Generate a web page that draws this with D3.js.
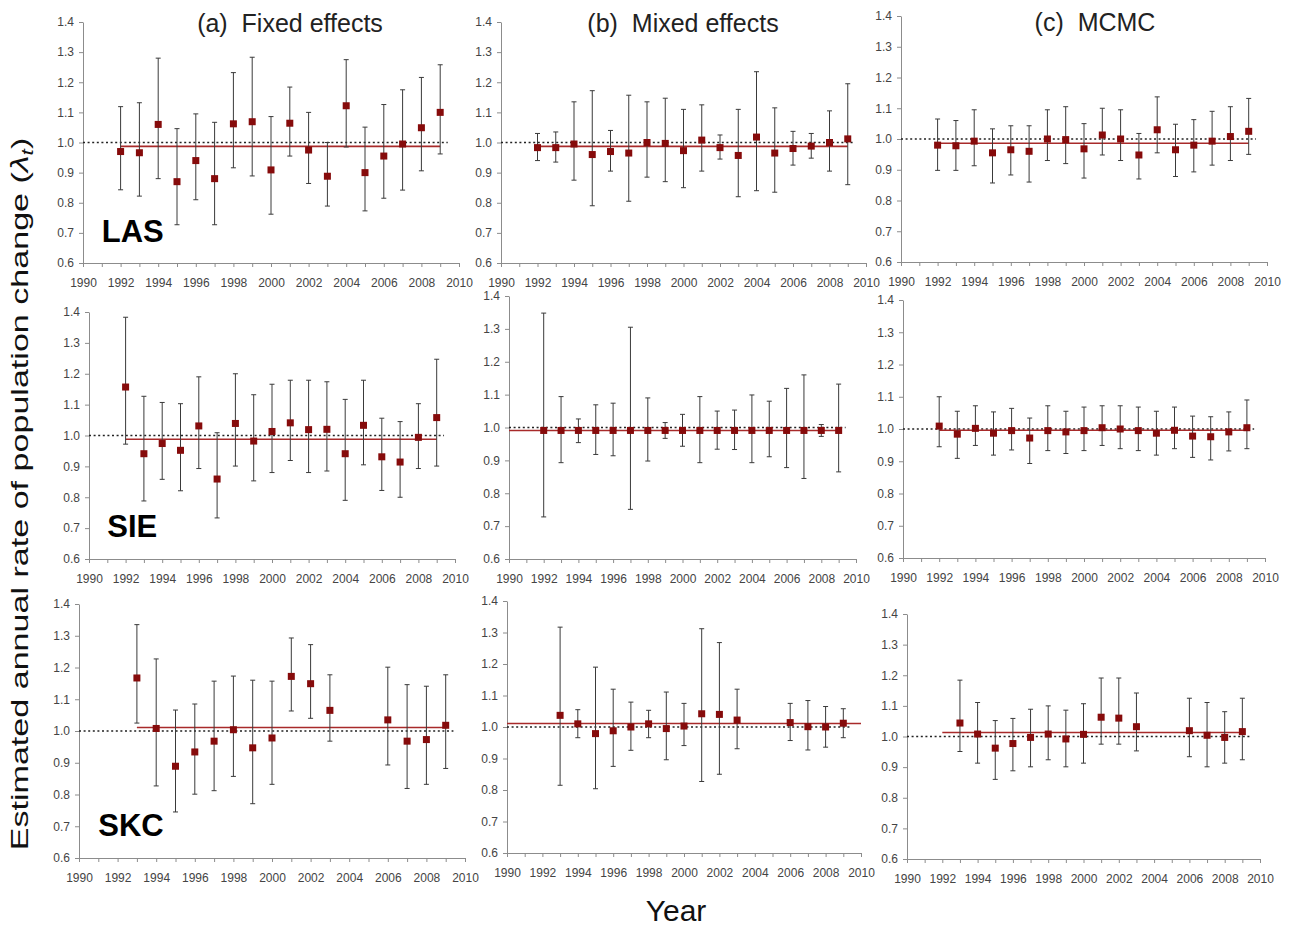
<!DOCTYPE html>
<html>
<head>
<meta charset="utf-8">
<script src="https://cdn.jsdelivr.net/npm/d3@7"></script>
<style>
  body { margin: 0; background: #fff; }
  text { font-family: "Liberation Sans", Arial, sans-serif; }
</style>
</head>
<body>
<script>
//Width and height
var w = 1290;
var h = 926;

// tick labels
const yearTicks = [1990, 1992, 1994, 1996, 1998, 2000, 2002, 2004, 2006, 2008, 2010];
const lambdaTicks = [0.6, 0.7, 0.8, 0.9, 1.0, 1.1, 1.2, 1.3, 1.4];

const columnTitles = ["(a)  Fixed effects", "(b)  Mixed effects", "(c)  MCMC"];
const rowLabels = ["LAS", "SIE", "SKC"];

// [year, estimate, lower, upper]
const lasFixed = [
  [1992, 0.970, 0.843, 1.119], [1993, 0.966, 0.822, 1.132], [1994, 1.060, 0.880, 1.280],
  [1995, 0.870, 0.727, 1.046], [1996, 0.940, 0.810, 1.095], [1997, 0.880, 0.727, 1.067],
  [1998, 1.062, 0.916, 1.232], [1999, 1.069, 0.889, 1.283], [2000, 0.909, 0.762, 1.086],
  [2001, 1.064, 0.955, 1.184], [2002, 0.975, 0.864, 1.100], [2003, 0.888, 0.789, 1.000],
  [2004, 1.122, 0.985, 1.275], [2005, 0.900, 0.773, 1.051], [2006, 0.955, 0.815, 1.126],
  [2007, 0.995, 0.842, 1.175], [2008, 1.049, 0.906, 1.216], [2009, 1.100, 0.962, 1.258]
];
const lasMixed = [
  [1992, 0.983, 0.940, 1.030], [1993, 0.983, 0.935, 1.035], [1994, 0.995, 0.875, 1.135],
  [1995, 0.960, 0.790, 1.172], [1996, 0.970, 0.905, 1.040], [1997, 0.965, 0.805, 1.157],
  [1998, 1.000, 0.885, 1.135], [1999, 0.997, 0.870, 1.147], [2000, 0.973, 0.850, 1.110],
  [2001, 1.008, 0.905, 1.125], [2002, 0.983, 0.945, 1.025], [2003, 0.957, 0.820, 1.110],
  [2004, 1.018, 0.840, 1.235], [2005, 0.965, 0.835, 1.115], [2006, 0.980, 0.925, 1.037],
  [2007, 0.988, 0.948, 1.030], [2008, 1.000, 0.905, 1.105], [2009, 1.012, 0.860, 1.195]
];
const lasMcmc = [
  [1992, 0.980, 0.898, 1.065], [1993, 0.978, 0.898, 1.060], [1994, 0.993, 0.913, 1.095],
  [1995, 0.955, 0.857, 1.033], [1996, 0.965, 0.883, 1.043], [1997, 0.960, 0.860, 1.043],
  [1998, 1.000, 0.930, 1.095], [1999, 0.998, 0.920, 1.105], [2000, 0.968, 0.873, 1.050],
  [2001, 1.013, 0.948, 1.100], [2002, 1.000, 0.930, 1.095], [2003, 0.948, 0.870, 1.018],
  [2004, 1.030, 0.955, 1.137], [2005, 0.965, 0.878, 1.048], [2006, 0.980, 0.893, 1.063],
  [2007, 0.993, 0.915, 1.090], [2008, 1.008, 0.930, 1.105], [2009, 1.025, 0.950, 1.132]
];

const sieFixed = [
  [1992, 1.157, 0.972, 1.383], [1993, 0.941, 0.788, 1.127], [1994, 0.974, 0.858, 1.107],
  [1995, 0.952, 0.821, 1.103], [1996, 1.031, 0.893, 1.190], [1997, 0.859, 0.733, 1.009],
  [1998, 1.039, 0.901, 1.200], [1999, 0.982, 0.853, 1.132], [2000, 1.013, 0.880, 1.166],
  [2001, 1.041, 0.919, 1.179], [2002, 1.019, 0.880, 1.179], [2003, 1.020, 0.885, 1.174],
  [2004, 0.941, 0.790, 1.117], [2005, 1.033, 0.905, 1.179], [2006, 0.931, 0.822, 1.056],
  [2007, 0.914, 0.800, 1.045], [2008, 0.994, 0.893, 1.103], [2009, 1.058, 0.901, 1.247]
];
const sieMixed = [
  [1992, 0.991, 0.728, 1.348], [1993, 0.991, 0.893, 1.094], [1994, 0.991, 0.954, 1.026],
  [1995, 0.991, 0.918, 1.069], [1996, 0.991, 0.914, 1.074], [1997, 0.991, 0.751, 1.305],
  [1998, 0.991, 0.898, 1.090], [1999, 0.991, 0.967, 1.015], [2000, 0.991, 0.943, 1.040],
  [2001, 0.991, 0.893, 1.094], [2002, 0.991, 0.934, 1.050], [2003, 0.991, 0.933, 1.053],
  [2004, 0.991, 0.893, 1.099], [2005, 0.991, 0.911, 1.080], [2006, 0.991, 0.878, 1.119],
  [2007, 0.991, 0.845, 1.160], [2008, 0.991, 0.973, 1.009], [2009, 0.991, 0.865, 1.132]
];
const sieMcmc = [
  [1992, 1.009, 0.945, 1.100], [1993, 0.984, 0.909, 1.055], [1994, 1.002, 0.949, 1.072],
  [1995, 0.987, 0.919, 1.053], [1996, 0.995, 0.935, 1.064], [1997, 0.972, 0.893, 1.034],
  [1998, 0.995, 0.933, 1.072], [1999, 0.991, 0.924, 1.055], [2000, 0.995, 0.933, 1.068],
  [2001, 1.004, 0.949, 1.072], [2002, 1.000, 0.939, 1.072], [2003, 0.995, 0.933, 1.068],
  [2004, 0.987, 0.919, 1.055], [2005, 0.996, 0.939, 1.068], [2006, 0.978, 0.912, 1.040],
  [2007, 0.976, 0.904, 1.038], [2008, 0.991, 0.932, 1.053], [2009, 1.004, 0.939, 1.090]
];

const skcFixed = [
  [1993, 1.167, 1.025, 1.335], [1994, 1.008, 0.827, 1.227], [1995, 0.889, 0.745, 1.066],
  [1996, 0.934, 0.801, 1.085], [1997, 0.968, 0.812, 1.157], [1998, 1.004, 0.857, 1.173],
  [1999, 0.947, 0.771, 1.160], [2000, 0.978, 0.832, 1.157], [2001, 1.172, 1.063, 1.293],
  [2002, 1.149, 1.040, 1.272], [2003, 1.065, 0.968, 1.177], [2006, 1.035, 0.893, 1.201],
  [2007, 0.968, 0.819, 1.146], [2008, 0.973, 0.832, 1.141], [2009, 1.018, 0.882, 1.177]
];
const skcMixed = [
  [1993, 1.037, 0.815, 1.317], [1994, 1.010, 0.966, 1.055], [1995, 0.979, 0.804, 1.190],
  [1996, 0.988, 0.875, 1.120], [1997, 1.000, 0.926, 1.079], [1998, 1.010, 0.966, 1.053],
  [1999, 0.995, 0.896, 1.111], [2000, 1.003, 0.941, 1.075], [2001, 1.042, 0.827, 1.312],
  [2002, 1.040, 0.850, 1.268], [2003, 1.022, 0.931, 1.120], [2006, 1.014, 0.957, 1.075],
  [2007, 1.001, 0.927, 1.084], [2008, 1.000, 0.936, 1.065], [2009, 1.012, 0.966, 1.058]
];
const skcMcmc = [
  [1993, 1.044, 0.951, 1.184], [1994, 1.008, 0.913, 1.111], [1995, 0.962, 0.860, 1.052],
  [1996, 0.977, 0.888, 1.059], [1997, 0.997, 0.901, 1.089], [1998, 1.008, 0.924, 1.100],
  [1999, 0.992, 0.901, 1.086], [2000, 1.007, 0.913, 1.107], [2001, 1.063, 0.975, 1.191],
  [2002, 1.060, 0.975, 1.191], [2003, 1.032, 0.953, 1.142], [2006, 1.019, 0.934, 1.125],
  [2007, 1.004, 0.901, 1.111], [2008, 0.997, 0.913, 1.081], [2009, 1.016, 0.924, 1.125]
];

// mean rate of change per panel: [value, from year, to year]
const lasMeans = [[0.987, 1992, 2009], [0.987, 1992, 2009], [0.986, 1992, 2009]];
const sieMeans = [[0.988, 1992, 2009], [0.991, 1990, 2009], [0.996, 1992, 2009]];
const skcMeans = [[1.011, 1993, 2009], [1.011, 1990, 2010], [1.013, 1992, 2009]];

// reference line lambda = 1
const refValue = 1.0;
const refSpan = [1990, 2009.4];

// panel layout: [x of 1990, x of 2010, y of 1.4, y of 0.6]
const layout = [
  [[83, 459, 22, 263], [501, 866, 22, 263], [901, 1267, 16, 262]],
  [[89, 455, 312, 559], [509, 856, 296, 559], [903, 1265, 300, 558]],
  [[79, 465, 604, 858], [507, 861, 601, 853], [907, 1260, 614, 859]]
];

const series = [
  [lasFixed, lasMixed, lasMcmc],
  [sieFixed, sieMixed, sieMcmc],
  [skcFixed, skcMixed, skcMcmc]
];
const means = [lasMeans, sieMeans, skcMeans];

const axisColor = "#8c8c8c";
const markColor = "#860b0b";
const meanColor = "#a82a2a";

// create SVG element
const svg = d3.select("body")
  .append("svg")
    .attr("width", w)
    .attr("height", h);

series.forEach((rowSeries, r) => {
  rowSeries.forEach((data, c) => {
    const box = layout[r][c];

    // create scale functions
    const xScale = d3.scaleLinear()
      .domain([1990, 2010])
      .range([box[0], box[1]]);
    const yScale = d3.scaleLinear()
      .domain([0.6, 1.4])
      .range([box[3], box[2]]);

    const g = svg.append("g");

    // minor year ticks
    g.append("g")
      .attr("class", "axis")
      .attr("transform", `translate(0, ${box[3]})`)
      .call(d3.axisBottom(xScale)
        .tickValues(d3.range(1990, 2011))
        .tickSize(4)
        .tickSizeOuter(0)
        .tickFormat(""));

    // year labels
    g.append("g")
      .attr("class", "axis labels")
      .attr("transform", `translate(0, ${box[3]})`)
      .call(d3.axisBottom(xScale)
        .tickValues(yearTicks)
        .tickSize(0)
        .tickPadding(15)
        .tickFormat(d3.format("d")))
      .select(".domain").remove();

    // Y axis
    g.append("g")
      .attr("class", "axis")
      .attr("transform", `translate(${box[0]}, 0)`)
      .call(d3.axisLeft(yScale)
        .tickValues(lambdaTicks)
        .tickSize(4)
        .tickSizeOuter(0)
        .tickPadding(5)
        .tickFormat(d3.format(".1f")));

    // reference line at 1.0
    g.append("line")
      .attr("x1", xScale(refSpan[0]))
      .attr("x2", xScale(refSpan[1]))
      .attr("y1", yScale(refValue))
      .attr("y2", yScale(refValue))
      .attr("stroke", "#222")
      .attr("stroke-width", 1.6)
      .attr("stroke-dasharray", "2,2.6");

    // mean line
    const m = means[r][c];
    g.append("line")
      .attr("x1", xScale(m[1]))
      .attr("x2", xScale(m[2]))
      .attr("y1", yScale(m[0]))
      .attr("y2", yScale(m[0]))
      .attr("stroke", meanColor)
      .attr("stroke-width", 1.6);

    // error bars
    const bars = g.selectAll(".err")
      .data(data)
      .enter()
      .append("g")
        .attr("class", "err")
        .attr("stroke", "#3a3a3a")
        .attr("stroke-width", 1);

    bars.append("line")
      .attr("x1", d => xScale(d[0]))
      .attr("x2", d => xScale(d[0]))
      .attr("y1", d => yScale(d[2]))
      .attr("y2", d => yScale(d[3]));

    bars.append("line")
      .attr("x1", d => xScale(d[0]) - 2.5)
      .attr("x2", d => xScale(d[0]) + 2.5)
      .attr("y1", d => yScale(d[3]))
      .attr("y2", d => yScale(d[3]));

    bars.append("line")
      .attr("x1", d => xScale(d[0]) - 2.5)
      .attr("x2", d => xScale(d[0]) + 2.5)
      .attr("y1", d => yScale(d[2]))
      .attr("y2", d => yScale(d[2]));

    // estimates
    g.selectAll(".pt")
      .data(data)
      .enter()
      .append("rect")
        .attr("class", "pt")
        .attr("x", d => xScale(d[0]) - 3.5)
        .attr("y", d => yScale(d[1]) - 3.5)
        .attr("width", 7)
        .attr("height", 7)
        .attr("fill", markColor);

    // row label in first column
    if (c === 0) {
      g.append("text")
        .attr("x", xScale(1991))
        .attr("y", yScale(0.67))
        .attr("font-size", 31)
        .attr("font-weight", "bold")
        .attr("fill", "#000")
        .text(rowLabels[r]);
    }
  });
});

// axis styling
svg.selectAll(".axis path, .axis line")
  .attr("stroke", axisColor);
svg.selectAll(".axis text")
  .attr("font-size", 12)
  .attr("font-family", "'Liberation Sans', Arial, sans-serif")
  .attr("fill", "#444");

// column titles
const titlePos = [[290, 32], [683, 32], [1095, 31]];
svg.selectAll(".coltitle")
  .data(columnTitles)
  .enter()
  .append("text")
    .attr("class", "coltitle")
    .attr("x", (d, i) => titlePos[i][0])
    .attr("y", (d, i) => titlePos[i][1])
    .attr("text-anchor", "middle")
    .attr("font-size", 25)
    .attr("fill", "#222")
    .style("white-space", "pre")
    .text(d => d);

// Y title
const yTitle = svg.append("text")
  .attr("transform", "translate(28, 494) rotate(-90) scale(1.42, 1)")
  .attr("text-anchor", "middle")
  .attr("font-size", 24)
  .attr("fill", "#111");
yTitle.append("tspan").text("Estimated annual rate of population change (");
yTitle.append("tspan").attr("font-style", "italic").text("λ");
yTitle.append("tspan").attr("font-style", "italic").attr("font-size", 16).attr("dy", 5).text("t");
yTitle.append("tspan").attr("dy", -5).text(")");

// X title
svg.append("text")
  .attr("x", 676)
  .attr("y", 921)
  .attr("text-anchor", "middle")
  .attr("font-size", 30)
  .attr("fill", "#111")
  .text("Year");
</script>
</body>
</html>
